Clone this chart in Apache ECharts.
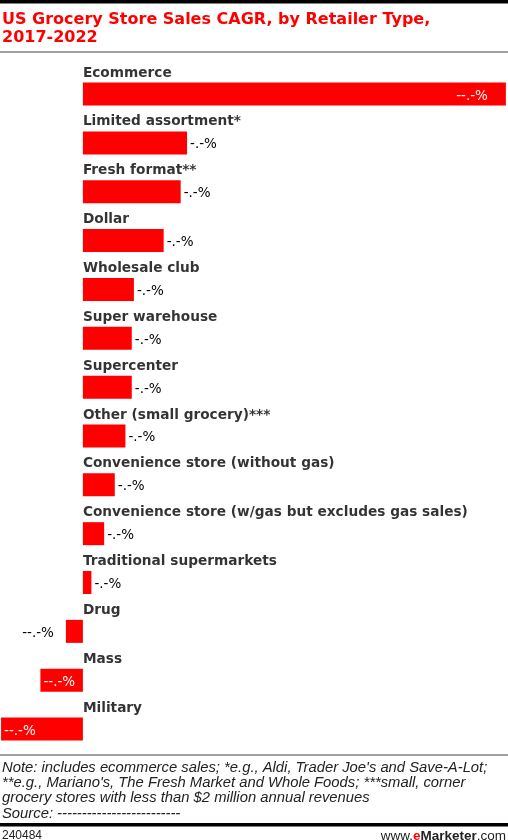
<!DOCTYPE html>
<html>
<head>
<meta charset="utf-8">
<style>
  html, body { margin: 0; padding: 0; background: #fff; }
  #chart { width: 508px; height: 840px; }
</style>
<script src="https://cdn.jsdelivr.net/npm/echarts@6/dist/echarts.min.js"></script>
</head>
<body>
<div id="chart"></div>
<script>
// retailer types, top to bottom
var categories = [
    'Ecommerce',
    'Limited assortment*',
    'Fresh format**',
    'Dollar',
    'Wholesale club',
    'Super warehouse',
    'Supercenter',
    'Other (small grocery)***',
    'Convenience store (without gas)',
    'Convenience store (w/gas but excludes gas sales)',
    'Traditional supermarkets',
    'Drug',
    'Mass',
    'Military'
];
// CAGR in % (labels are masked in the source)
var cagr = [19.9, 4.9, 4.6, 3.8, 2.4, 2.3, 2.3, 2.0, 1.5, 1.0, 0.4, -0.8, -2.0, -3.85];
// value labels as printed
var valueLabels = ['--.-%', '-.-%', '-.-%', '-.-%', '-.-%', '-.-%', '-.-%', '-.-%', '-.-%', '-.-%', '-.-%', '--.-%', '--.-%', '--.-%'];
var zeros = [0, 0, 0, 0, 0, 0, 0, 0, 0, 0, 0, 0, 0, 0];

var RED = '#ff0000';

// where each value label goes
function labelFor(i){
    var v = cagr[i];
    if(i === 0){
        return {show: true, position: 'insideRight', distance: 18, color: '#fff', formatter: valueLabels[i]};
    }
    if(v >= 0){
        return {show: true, position: 'right', distance: 3, color: '#000', formatter: valueLabels[i]};
    }
    if(v > -1.5){
        return {show: true, position: 'left', distance: 12, color: '#000', formatter: valueLabels[i]};
    }
    return {show: true, position: 'insideLeft', distance: 3, color: '#fff', formatter: valueLabels[i]};
}

var barData = cagr.map(function(v, i){
    return {value: v, label: labelFor(i)};
});

var option = {
    backgroundColor: '#fff',
    animation: false,
    grid: {left: 0, right: 0, top: 69.6, bottom: 86.5},
    xAxis: {
        type: 'value', min: -3.9, max: 20,
        axisLine: {show: false}, axisTick: {show: false},
        axisLabel: {show: false}, splitLine: {show: false}
    },
    yAxis: {
        type: 'category', inverse: true, data: categories,
        axisLine: {show: false}, axisTick: {show: false},
        axisLabel: {show: false}, splitLine: {show: false}
    },
    series: [
        {
            type: 'bar',
            barWidth: 23,
            itemStyle: {color: RED},
            label: {fontFamily: 'DejaVu Sans', fontSize: 13.5, offset: [0, 2]},
            data: barData
        },
        {
            // category names sit above each bar, starting at the zero line
            type: 'scatter',
            symbolSize: 0,
            silent: true,
            label: {
                show: true,
                position: [0, -21],
                align: 'left',
                verticalAlign: 'middle',
                color: '#000',
                fontFamily: 'DejaVu Sans',
                fontWeight: 'bold',
                fontSize: 13.7,
                formatter: function(p){ return categories[p.dataIndex]; }
            },
            data: zeros
        }
    ],
    graphic: [
        {type: 'rect', shape: {x: 0, y: 0, width: 508, height: 3.5}, style: {fill: '#000'}},
        {
            type: 'text', left: 2, top: 11,
            style: {
                text: 'US Grocery Store Sales CAGR, by Retailer Type,\n2017-2022',
                fill: RED, font: 'bold 16px "DejaVu Sans"', lineHeight: 18
            }
        },
        {type: 'rect', shape: {x: 0, y: 51.5, width: 508, height: 1}, style: {fill: '#444'}},
        {type: 'rect', shape: {x: 0, y: 754.5, width: 508, height: 1}, style: {fill: '#444'}},
        {
            type: 'text', left: 2, top: 760,
            style: {
                text: "Note: includes ecommerce sales; *e.g., Aldi, Trader Joe's and Save-A-Lot;\n" +
                      "**e.g., Mariano's, The Fresh Market and Whole Foods; ***small, corner\n" +
                      "grocery stores with less than $2 million annual revenues\n" +
                      "Source: -------------------------",
                fill: '#222', font: 'italic 14.8px "Liberation Sans"', lineHeight: 15.3
            }
        },
        {type: 'rect', shape: {x: 0, y: 823, width: 508, height: 3.5}, style: {fill: '#000'}},
        {
            type: 'text', left: 2, top: 830,
            style: {text: '240484', fill: '#222', font: '12px "Liberation Sans"'}
        },
        {
            type: 'text', right: 2, top: 829,
            style: {
                text: '{a|www.}{b|e}{c|Marketer}{a|.com}',
                rich: {
                    a: {fill: '#222', font: '13.5px "Liberation Sans"'},
                    b: {fill: RED, font: 'bold 13.5px "Liberation Sans"'},
                    c: {fill: '#222', font: 'bold 13.5px "Liberation Sans"'}
                }
            }
        }
    ]
};

var myChart = echarts.init(document.getElementById('chart'));
myChart.setOption(option);
window.addEventListener("resize", function () {
    myChart.resize();
});
</script>
</body>
</html>
